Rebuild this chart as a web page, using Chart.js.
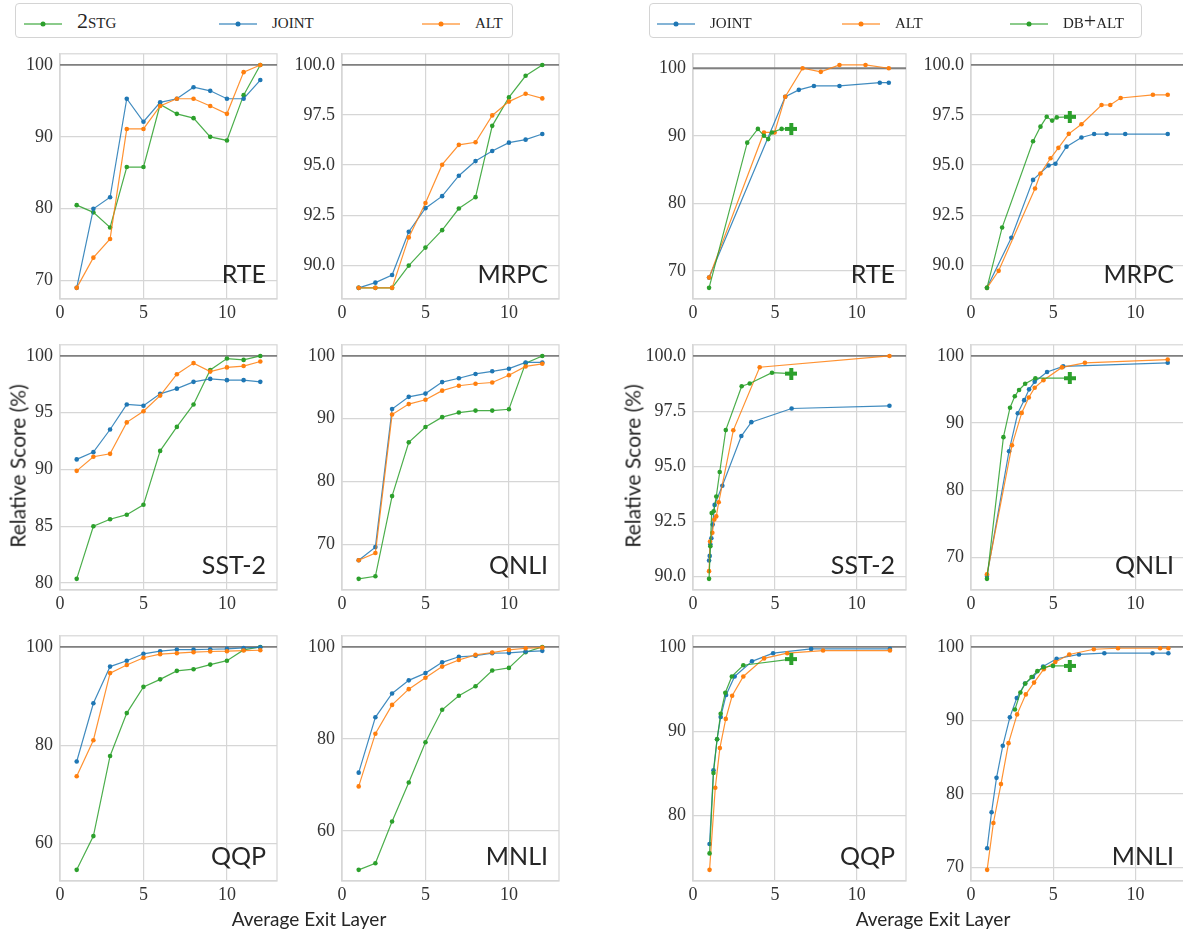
<!DOCTYPE html>
<html>
<head>
<meta charset="utf-8">
<script src="https://cdn.jsdelivr.net/npm/chart.js@4.4.0/dist/chart.umd.min.js"></script>
<style>
  body { margin: 0; width: 1183px; height: 934px; overflow: hidden; background: #fff; position: relative; }
  canvas { position: absolute; }
  .legend { position: absolute; top: 3px; height: 35px; border: 1px solid #d4d4d4; border-radius: 4px; box-sizing: border-box; background: #fff; }
  .key { position: absolute; top: 11px; }
  .name { position: absolute; top: 4px; font-family: "Liberation Serif", serif; font-size: 22px; font-variant: small-caps; color: #262626; white-space: nowrap; }
  .label { position: absolute; font-family: Lato, sans-serif; font-size: 20px; color: #262626; white-space: nowrap; }
</style>
</head>
<body>
<script>
// layer index used by the per-layer curves (left block)
const layers = [1, 2, 3, 4, 5, 6, 7, 8, 9, 10, 11, 12];

const rte2stg   = [80.5, 79.5, 77.4, 85.8, 85.8, 94.5, 93.2, 92.6, 90.0, 89.5, 95.8, 100];
const rteJoint  = [69.0, 80.0, 81.6, 95.3, 92.1, 94.8, 95.3, 96.9, 96.4, 95.3, 95.3, 97.9];
const rteAlt    = [69.0, 73.2, 75.8, 91.1, 91.1, 94.3, 95.3, 95.3, 94.3, 93.2, 99.0, 100];

const mrpc2stg  = [88.87, 88.87, 88.87, 89.98, 90.88, 91.75, 92.83, 93.40, 96.96, 98.38, 99.46, 100];
const mrpcJoint = [88.87, 89.13, 89.51, 91.67, 92.85, 93.45, 94.47, 95.20, 95.70, 96.12, 96.27, 96.55];
const mrpcAlt   = [88.87, 88.87, 88.87, 91.39, 93.11, 95.02, 96.01, 96.14, 97.48, 98.17, 98.56, 98.33];

const sst2stg   = [80.37, 85.0, 85.62, 86.02, 86.89, 91.64, 93.75, 95.73, 98.76, 99.77, 99.65, 100];
const sstJoint  = [90.89, 91.53, 93.52, 95.73, 95.62, 96.66, 97.12, 97.72, 97.98, 97.87, 97.87, 97.72];
const sstAlt    = [89.88, 91.12, 91.38, 94.15, 95.13, 96.51, 98.39, 99.37, 98.62, 98.99, 99.11, 99.51];

const qnli2stg  = [64.48, 64.89, 77.67, 86.23, 88.68, 90.25, 90.98, 91.29, 91.29, 91.50, 98.85, 100];
const qnliJoint = [67.45, 69.54, 91.55, 93.48, 94.0, 95.83, 96.45, 97.13, 97.55, 97.97, 98.96, 98.96];
const qnliAlt   = [67.45, 68.6, 90.66, 92.33, 93.01, 94.47, 95.25, 95.57, 95.77, 96.92, 98.33, 98.75];

const qqp2stg   = [54.6, 61.47, 77.8, 86.53, 91.87, 93.4, 95.13, 95.47, 96.4, 97.2, 99.4, 100];
const qqpJoint  = [76.67, 88.53, 96.0, 97.2, 98.6, 99.13, 99.47, 99.47, 99.53, 99.6, 99.8, 99.93];
const qqpAlt    = [73.67, 81.0, 94.67, 96.33, 97.8, 98.53, 98.73, 98.93, 99.07, 99.13, 99.27, 99.33];

const mnli2stg  = [51.53, 52.95, 62.06, 70.53, 79.29, 86.33, 89.4, 91.46, 94.88, 95.44, 98.86, 100];
const mnliJoint = [72.67, 84.7, 89.89, 92.74, 94.31, 96.65, 97.86, 98.08, 98.65, 98.72, 99.0, 99.15];
const mnliAlt   = [69.68, 81.14, 87.4, 90.82, 93.31, 95.73, 97.15, 98.29, 98.79, 99.36, 99.72, 99.86];

// early-exit curves (right block): average exit layer vs relative score
const rteJointExit  = [0.98, 5.63, 6.46, 7.38, 8.94, 11.4, 11.95];
const rteJointScore = [69.0, 95.78, 96.8, 97.38, 97.38, 97.86, 97.86];
const rteAltExit    = [0.98, 4.33, 4.98, 5.63, 6.69, 7.8, 8.94, 10.53, 11.95];
const rteAltScore   = [69.0, 90.49, 90.49, 95.78, 100, 99.47, 100.49, 100.49, 100];
const rteDbExit     = [0.98, 3.31, 3.96, 4.33, 4.59, 4.82, 5.41, 6.0];
const rteDbScore    = [67.48, 88.98, 91.02, 90.0, 89.51, 90.49, 91.02, 91.02];

const mrpcJointExit  = [0.97, 2.45, 3.77, 4.71, 5.13, 5.8, 6.71, 7.48, 8.24, 9.37, 11.95];
const mrpcJointScore = [88.87, 91.37, 94.26, 94.98, 95.07, 95.92, 96.38, 96.55, 96.55, 96.55, 96.55];
const mrpcAltExit    = [0.97, 1.68, 3.89, 4.22, 4.83, 5.31, 5.94, 6.71, 7.93, 8.46, 9.09, 11.05, 11.95];
const mrpcAltScore   = [88.87, 89.72, 93.83, 94.58, 95.34, 95.86, 96.56, 97.04, 98.0, 98.0, 98.35, 98.51, 98.51];
const mrpcDbExit     = [0.97, 1.89, 3.77, 4.22, 4.6, 4.93, 5.21, 6.0];
const mrpcDbScore    = [88.87, 91.88, 96.19, 96.92, 97.41, 97.22, 97.38, 97.41];

const sstJointExit  = [0.98, 1.02, 1.06, 1.12, 1.2, 1.32, 1.79, 2.95, 3.56, 6.02, 11.99];
const sstJointScore = [90.73, 90.94, 91.47, 91.74, 92.36, 93.25, 94.12, 96.37, 97.0, 97.62, 97.74];
const sstAltExit    = [0.98, 1.04, 1.18, 1.3, 1.42, 1.57, 2.46, 4.07, 11.99];
const sstAltScore   = [90.25, 91.59, 91.99, 92.59, 92.73, 93.37, 96.63, 99.49, 100];
const sstDbExit     = [0.98, 1.06, 1.14, 1.26, 1.42, 1.63, 2.0, 2.97, 3.46, 4.82, 6.0];
const sstDbScore    = [89.9, 91.38, 92.88, 92.96, 93.63, 94.74, 96.64, 98.63, 98.75, 99.24, 99.2];

const qnliJointExit  = [0.97, 2.31, 2.84, 3.23, 3.53, 3.87, 4.62, 5.6, 11.95];
const qnliJointScore = [67.22, 85.8, 91.46, 93.41, 95.02, 96.15, 97.61, 98.44, 98.98];
const qnliAltExit    = [0.97, 2.49, 3.08, 3.51, 3.87, 4.4, 5.52, 6.92, 11.95];
const qnliAltScore   = [67.46, 86.68, 91.51, 93.8, 95.27, 96.39, 98.29, 98.98, 99.46];
const qnliDbExit     = [0.97, 1.97, 2.37, 2.66, 2.92, 3.29, 3.91, 6.0];
const qnliDbScore    = [66.78, 87.9, 92.29, 94.0, 94.93, 95.85, 96.68, 96.68];

const qqpJointExit  = [1.01, 1.25, 1.47, 1.69, 2.02, 2.54, 3.6, 4.89, 7.21, 12.02];
const qqpJointScore = [76.62, 85.36, 89.05, 91.69, 94.29, 96.5, 98.29, 99.26, 99.77, 99.77];
const qqpAltExit    = [1.01, 1.36, 1.64, 2.0, 2.39, 3.07, 4.34, 5.75, 7.94, 12.02];
const qqpAltScore   = [73.55, 83.3, 88.0, 91.46, 94.21, 96.5, 98.64, 99.26, 99.57, 99.57];
const qqpDbExit     = [1.01, 1.25, 1.47, 1.69, 1.97, 2.37, 3.07, 6.0];
const qqpDbScore    = [75.5, 85.05, 89.05, 92.08, 94.56, 96.5, 97.83, 98.56];

const mnliJointExit  = [0.98, 1.25, 1.55, 1.93, 2.36, 2.78, 3.28, 3.76, 4.38, 5.2, 6.56, 8.1, 11.03, 11.99];
const mnliJointScore = [72.63, 77.53, 82.2, 86.56, 90.43, 93.06, 95.02, 95.91, 97.33, 98.4, 98.98, 99.15, 99.15, 99.15];
const mnliAltExit    = [0.98, 1.36, 1.82, 2.28, 2.8, 3.33, 3.83, 4.42, 5.12, 5.97, 7.46, 8.93, 11.49, 11.99];
const mnliAltScore   = [69.69, 76.06, 81.35, 86.92, 90.83, 93.55, 95.15, 96.97, 97.95, 98.98, 99.69, 99.82, 99.82, 99.82];
const mnliDbExit     = [2.67, 3.0, 3.3, 3.68, 4.03, 4.42, 4.98, 6.0];
const mnliDbScore    = [91.5, 93.81, 95.02, 95.91, 96.71, 97.24, 97.42, 97.42];

const xTicks = [0, 5, 10];

const BLUE = '#1f77b4', ORANGE = '#ff7f0e', GREEN = '#2ca02c';
const GRID = '#d6d6d6';
const PAD = 14, YW = 60, XH = 32;

function fade(hex, a) {
  const n = parseInt(hex.slice(1), 16);
  return `rgba(${n >> 16},${(n >> 8) & 255},${n & 255},${a})`;
}

// thick "plus" marker for the final DB+ALT point
function plusMarker(color) {
  const c = document.createElement('canvas');
  c.width = 12; c.height = 12;
  const g = c.getContext('2d');
  g.fillStyle = color;
  g.fillRect(4, 0, 4, 12);
  g.fillRect(0, 4, 12, 4);
  return c;
}
const plus = plusMarker(GREEN);

const frame = {
  id: 'frame',
  beforeDatasetsDraw(chart) {
    const a = chart.chartArea, ctx = chart.ctx;
    ctx.save();
    ctx.strokeStyle = GRID;
    ctx.lineWidth = 1.2;
    ctx.strokeRect(a.left, a.top, a.right - a.left, a.bottom - a.top);
    ctx.restore();
  }
};

const panelName = {
  id: 'panelName',
  afterDatasetsDraw(chart, args, opts) {
    const a = chart.chartArea, ctx = chart.ctx;
    ctx.save();
    ctx.font = '25px Lato, sans-serif';
    ctx.fillStyle = '#262626';
    ctx.textAlign = 'right';
    ctx.textBaseline = 'alphabetic';
    ctx.fillText(opts.text, a.right - 11, a.bottom - 16);
    ctx.restore();
  }
};

function panel(left, top, width, name, step, series) {
  const canvas = document.createElement('canvas');
  canvas.width = YW + width + PAD;
  canvas.height = PAD + 249 + XH;
  canvas.style.left = (left - YW) + 'px';
  canvas.style.top = (top - PAD) + 'px';
  document.body.appendChild(canvas);

  const ys = series.flatMap(s => s.y).concat([100]);
  const lo = Math.min(...ys), hi = Math.max(...ys), m = (hi - lo) * 0.05;
  const yMin = lo - m, yMax = hi + m;
  const yTicks = [];
  for (let v = Math.ceil(yMin / step) * step; v <= yMax + 1e-9; v += step) yTicks.push(v);

  const datasets = series.map(s => {
    const last = s.x.length - 1;
    return {
      data: s.x.map((x, i) => ({ x: x, y: s.y[i] })),
      borderColor: fade(s.color, 0.85),
      backgroundColor: s.color,
      pointBackgroundColor: s.color,
      borderWidth: 1.2,
      pointRadius: 2.3,
      pointBorderWidth: 0,
      pointStyle: s.cross ? (c => c.dataIndex === last ? plus : 'circle') : 'circle',
      order: s.order
    };
  });
  // reference line at 100 %
  datasets.push({
    data: [{ x: 0, y: 100 }, { x: 13, y: 100 }],
    borderColor: '#808080', borderWidth: 1.8, pointRadius: 0, order: 10
  });

  const tickFont = { family: '"Liberation Serif", serif', size: 18 };
  new Chart(canvas, {
    type: 'line',
    data: { datasets: datasets },
    options: {
      responsive: false,
      animation: false,
      devicePixelRatio: 1,
      events: [],
      layout: { padding: { top: PAD, right: PAD, left: 0, bottom: 0 } },
      plugins: { legend: { display: false }, tooltip: { enabled: false }, panelName: { text: name } },
      scales: {
        x: {
          type: 'linear', min: 0, max: 13,
          afterBuildTicks: a => { a.ticks = xTicks.map(v => ({ value: v })); },
          afterFit: a => { a.height = XH; },
          grid: { color: GRID, lineWidth: 1.2, drawTicks: false },
          border: { color: GRID, width: 1.2 },
          ticks: { font: tickFont, color: '#333', padding: 3, maxRotation: 0 }
        },
        y: {
          type: 'linear', min: yMin, max: yMax,
          afterBuildTicks: a => { a.ticks = yTicks.map(v => ({ value: v })); },
          afterFit: a => { a.width = YW; },
          grid: { color: GRID, lineWidth: 1.2, drawTicks: false },
          border: { color: GRID, width: 1.2 },
          ticks: {
            font: tickFont, color: '#333', padding: 7,
            callback: v => step % 1 ? v.toFixed(1) : String(Math.round(v))
          }
        }
      }
    },
    plugins: [frame, panelName]
  });
}

function perLayer(s2, joint, alt) {
  return [
    { x: layers, y: s2, color: GREEN, order: 2 },
    { x: layers, y: joint, color: BLUE, order: 1 },
    { x: layers, y: alt, color: ORANGE, order: 0 }
  ];
}
function exits(jx, jy, ax, ay, dx, dy) {
  return [
    { x: jx, y: jy, color: BLUE, order: 2 },
    { x: ax, y: ay, color: ORANGE, order: 1 },
    { x: dx, y: dy, color: GREEN, order: 0, cross: true }
  ];
}

const rows = [50, 341, 632];
const colA = 60, colB = 342, colC = 693, colD = 971;

panel(colA, rows[0], 217, 'RTE', 10, perLayer(rte2stg, rteJoint, rteAlt));
panel(colB, rows[0], 217, 'MRPC', 2.5, perLayer(mrpc2stg, mrpcJoint, mrpcAlt));
panel(colA, rows[1], 217, 'SST-2', 5, perLayer(sst2stg, sstJoint, sstAlt));
panel(colB, rows[1], 217, 'QNLI', 10, perLayer(qnli2stg, qnliJoint, qnliAlt));
panel(colA, rows[2], 217, 'QQP', 20, perLayer(qqp2stg, qqpJoint, qqpAlt));
panel(colB, rows[2], 217, 'MNLI', 20, perLayer(mnli2stg, mnliJoint, mnliAlt));

panel(colC, rows[0], 213, 'RTE', 10, exits(rteJointExit, rteJointScore, rteAltExit, rteAltScore, rteDbExit, rteDbScore));
panel(colD, rows[0], 214, 'MRPC', 2.5, exits(mrpcJointExit, mrpcJointScore, mrpcAltExit, mrpcAltScore, mrpcDbExit, mrpcDbScore));
panel(colC, rows[1], 213, 'SST-2', 2.5, exits(sstJointExit, sstJointScore, sstAltExit, sstAltScore, sstDbExit, sstDbScore));
panel(colD, rows[1], 214, 'QNLI', 10, exits(qnliJointExit, qnliJointScore, qnliAltExit, qnliAltScore, qnliDbExit, qnliDbScore));
panel(colC, rows[2], 213, 'QQP', 10, exits(qqpJointExit, qqpJointScore, qqpAltExit, qqpAltScore, qqpDbExit, qqpDbScore));
panel(colD, rows[2], 214, 'MNLI', 10, exits(mnliJointExit, mnliJointScore, mnliAltExit, mnliAltScore, mnliDbExit, mnliDbScore));

// legends
function legend(left, width, items) {
  const box = document.createElement('div');
  box.className = 'legend';
  box.style.left = left + 'px';
  box.style.width = width + 'px';
  document.body.appendChild(box);
  items.forEach(it => {
    const key = document.createElement('div');
    key.className = 'key';
    key.style.left = (it.at - left) + 'px';
    key.innerHTML = `<svg width="40" height="10"><line x1="1" y1="5" x2="39" y2="5" stroke="${fade(it.color, 0.55)}" stroke-width="2.2"/><circle cx="20" cy="5" r="2.5" fill="${it.color}"/></svg>`;
    box.appendChild(key);
    const name = document.createElement('div');
    name.className = 'name';
    name.style.left = (it.at - left + 54) + 'px';
    name.textContent = it.text;
    box.appendChild(name);
  });
}
legend(15, 498, [
  { at: 22, color: GREEN, text: '2stg' },
  { at: 217, color: BLUE, text: 'joint' },
  { at: 420, color: ORANGE, text: 'alt' }
]);
legend(649, 493, [
  { at: 655, color: BLUE, text: 'joint' },
  { at: 840, color: ORANGE, text: 'alt' },
  { at: 1008, color: GREEN, text: 'db+alt' }
]);

// axis titles
function label(text, x, y, rotate, size) {
  const d = document.createElement('div');
  d.className = 'label';
  d.textContent = text;
  d.style.fontSize = size + 'px';
  d.style.left = x + 'px';
  d.style.top = y + 'px';
  d.style.transform = 'translate(-50%, -50%)' + (rotate ? ' rotate(-90deg)' : '');
  document.body.appendChild(d);
}
label('Average Exit Layer', 309, 918, false, 19);
label('Average Exit Layer', 933, 918, false, 19);
label('Relative Score (%)', 17, 466, true, 21);
label('Relative Score (%)', 632, 466, true, 21);
</script>
</body>
</html>
